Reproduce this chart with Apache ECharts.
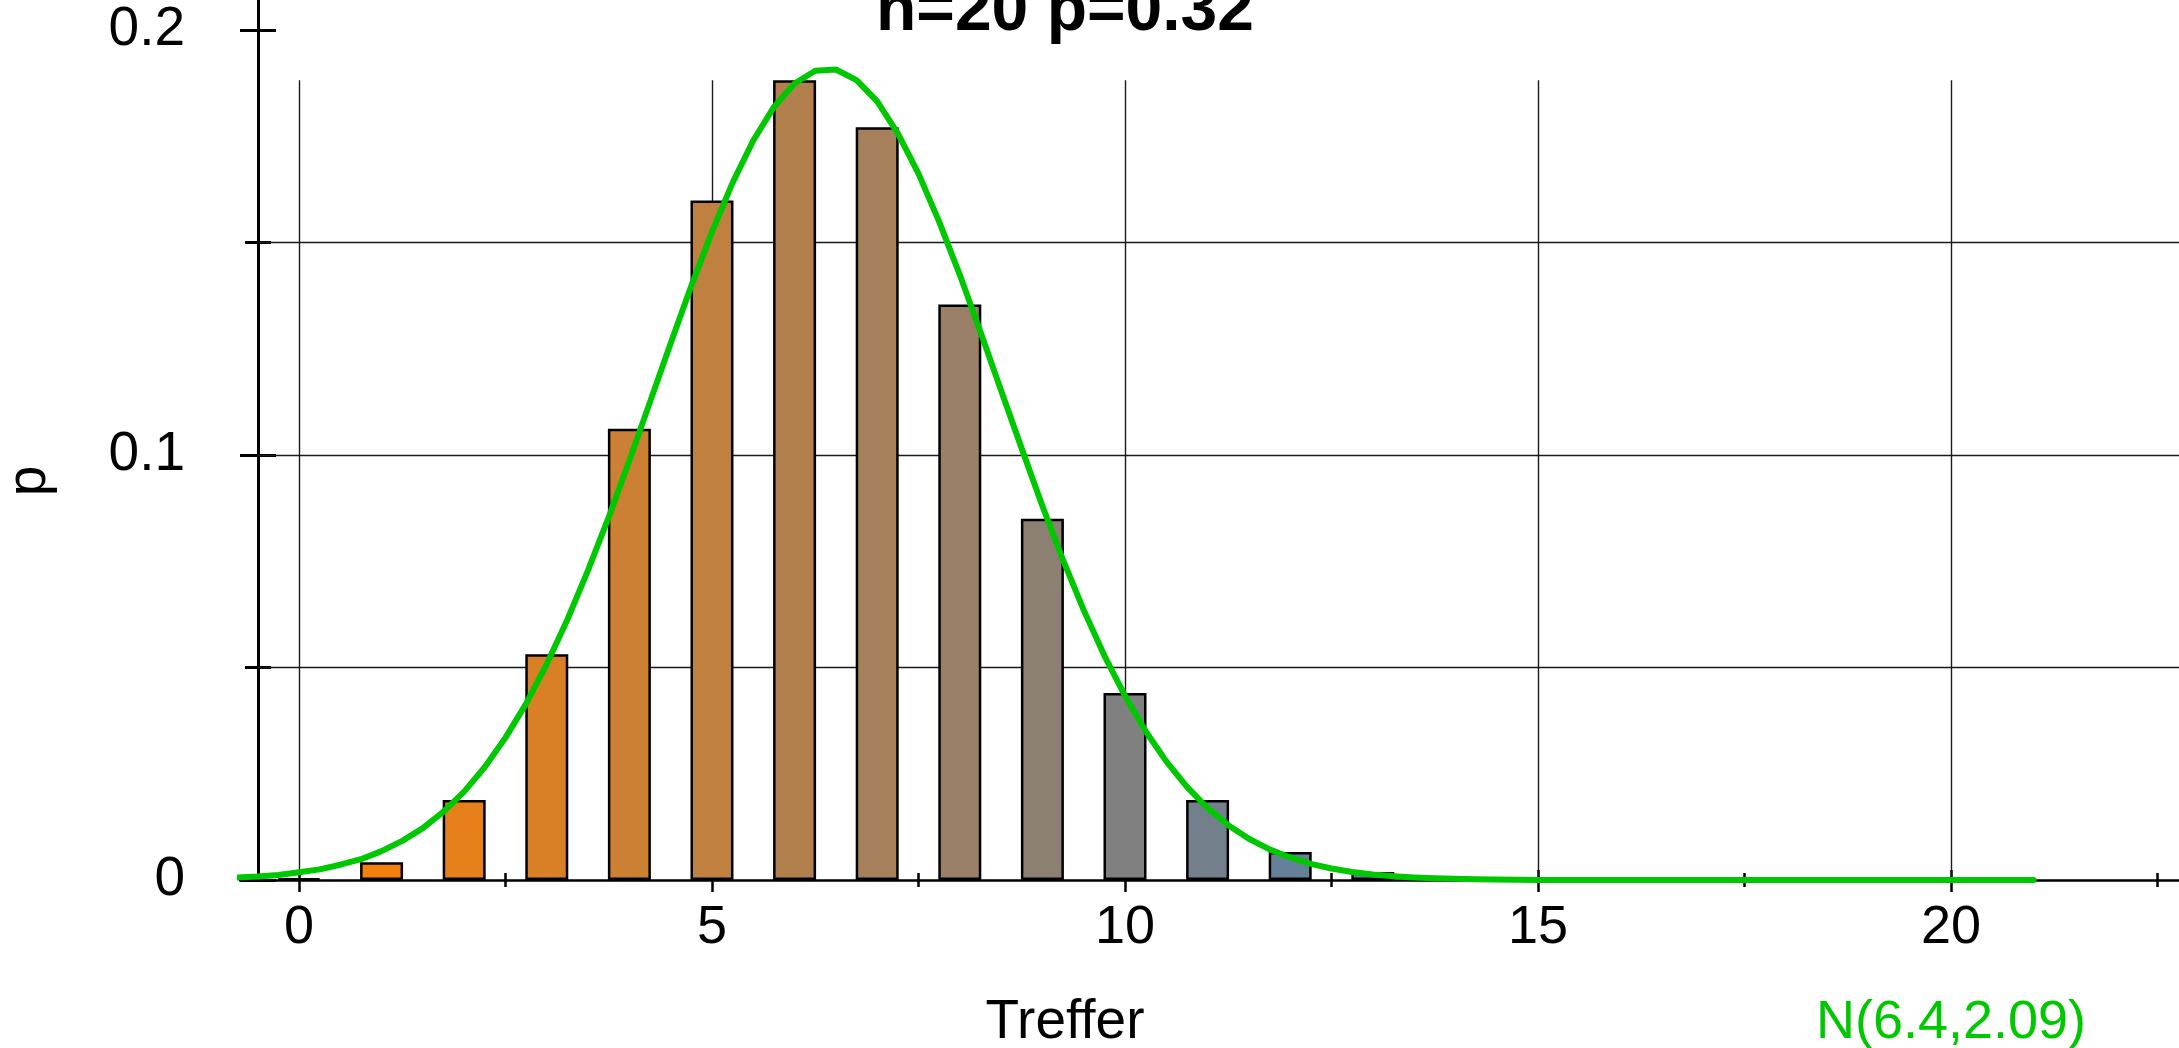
<!DOCTYPE html>
<html>
<head>
<meta charset="utf-8">
<script src="https://cdn.jsdelivr.net/npm/echarts@6/dist/echarts.min.js"></script>
<style>
html,body{margin:0;padding:0;background:#fff;}
#chart{width:2179px;height:1048px;}
</style>
</head>
<body>
<div id="chart"></div>
<script>
// ---- data ----
const titleText = 'n=20 p=0.32';
const xName = 'Treffer';
const yName = 'p';
const curveName = 'N(6.4,2.09)';
const hits = [0, 1, 2, 3, 4, 5, 6, 7, 8, 9, 10, 11, 12, 13, 14, 15];
const probs = [0.0004, 0.0042, 0.0188, 0.0531, 0.1062, 0.1599, 0.1882, 0.1771, 0.1354, 0.0850, 0.0440, 0.0188, 0.0066, 0.0019, 0.0005, 0.0001];
const curveX = [
  -1, -0.75, -0.5, -0.25, 0, 0.25, 0.5, 0.75, 1, 1.25, 1.5, 1.75, 2, 2.25, 2.5, 2.75,
  3, 3.25, 3.5, 3.75, 4, 4.25, 4.5, 4.75, 5, 5.25, 5.5, 5.75, 6, 6.25, 6.5, 6.75,
  7, 7.25, 7.5, 7.75, 8, 8.25, 8.5, 8.75, 9, 9.25, 9.5, 9.75, 10, 10.25, 10.5, 10.75,
  11, 11.25, 11.5, 11.75, 12, 12.25, 12.5, 12.75, 13, 13.25, 13.5, 13.75, 14, 14.25, 14.5,
  15, 15.5, 16, 16.5, 17, 17.5, 18, 18.5, 19, 19.5, 20, 20.5, 21
];
const curveY = [
  0.0004, 0.0006, 0.0008, 0.0012, 0.0018, 0.0025, 0.0036, 0.0049, 0.0068, 0.0092, 0.0122, 0.0161, 0.0208, 0.0266, 0.0335, 0.0415,
  0.0508, 0.0613, 0.0729, 0.0854, 0.0987, 0.1125, 0.1263, 0.1398, 0.1525, 0.1641, 0.1740, 0.1819, 0.1874, 0.1904, 0.1907, 0.1882,
  0.1832, 0.1757, 0.1662, 0.1549, 0.1424, 0.1290, 0.1152, 0.1015, 0.0880, 0.0753, 0.0635, 0.0528, 0.0433, 0.0350, 0.0279, 0.0219,
  0.0169, 0.0129, 0.0097, 0.0072, 0.0053, 0.0038, 0.0027, 0.0019, 0.0013, 0.0009, 0.0006, 0.0004, 0.0003, 0.0002, 0.0001,
  0, 0, 0, 0, 0, 0, 0, 0, 0, 0, 0, 0, 0
];
const xMajorTicks = [0, 5, 10, 15, 20];
const xMinorTicks = [2.5, 7.5, 12.5, 17.5, 22.5];
const yMajorTicks = [0, 0.1, 0.2];
const yMinorTicks = [0.05, 0.15];
const hGridValues = [0.05, 0.1, 0.15];

// ---- styles ----
const barColors = ['#FF8000', '#F2800D', '#E5801A', '#D98026', '#CC8033', '#BF8040', '#B2804D', '#A6805A', '#998066', '#8C8073', '#808080', '#73808C', '#668099', '#5980A6', '#4D80B2', '#4080BF'];
const FONT = "'Liberation Sans', Arial, sans-serif";
const GREEN = '#00C800';
const X_MIN = -0.714, X_MAX = 22.76, X_AXIS_START = -0.5;
const Y_MIN = 0, Y_MAX = 0.20706;

const gridTop = Math.max.apply(null, probs);

function xAxisDef(ticks, len, inside, showLine, showLabel) {
  return {
    type: 'value', min: X_MIN, max: X_MAX, position: 'bottom', gridIndex: 0,
    axisLine: {show: showLine, onZero: false, lineStyle: {color: '#000', width: 2.5}},
    axisTick: {show: true, inside: inside, length: len, customValues: ticks, lineStyle: {color: '#000', width: 2.5}},
    axisLabel: {show: showLabel, customValues: ticks, margin: 21, fontSize: 54, color: '#000', fontFamily: FONT},
    splitLine: {show: false}
  };
}
function yAxisDef(ticks, len, inside, showLine, showLabel) {
  return {
    type: 'value', min: Y_MIN, max: Y_MAX, position: 'left', offset: -18, gridIndex: 0,
    axisLine: {show: showLine, onZero: false, lineStyle: {color: '#000', width: 3}},
    axisTick: {show: true, inside: inside, length: len, customValues: ticks, lineStyle: {color: '#000', width: 3}},
    axisLabel: {show: showLabel, customValues: ticks, margin: 73, fontSize: 55, color: '#000', fontFamily: FONT},
    splitLine: {show: false}
  };
}

const gridLines = [];
hGridValues.forEach(v => gridLines.push([{coord: [X_AXIS_START, v]}, {coord: [X_MAX, v]}]));
xMajorTicks.forEach(v => gridLines.push([{coord: [v, 0]}, {coord: [v, gridTop]}]));

const chart = echarts.init(document.getElementById('chart'), null, {renderer: 'canvas'});
chart.setOption({
  animation: false,
  backgroundColor: '#fff',
  grid: {left: 240, right: 0, top: 0, bottom: 168, containLabel: false},
  xAxis: [
    xAxisDef(xMajorTicks, 12, false, true, true),
    xAxisDef(xMajorTicks, 10, true, false, false),
    xAxisDef(xMinorTicks, 7, false, false, false),
    xAxisDef(xMinorTicks, 7, true, false, false)
  ],
  yAxis: [
    yAxisDef(yMajorTicks, 18, false, true, true),
    yAxisDef(yMajorTicks, 18, true, false, false),
    yAxisDef(yMinorTicks, 13, false, false, false),
    yAxisDef(yMinorTicks, 13, true, false, false)
  ],
  series: [
    {
      type: 'line', name: 'grid', data: [], z: 1, silent: true,
      markLine: {
        silent: true, z: 1, symbol: 'none', animation: false,
        label: {show: false},
        lineStyle: {color: '#1a1a1a', width: 1.4, type: 'solid'},
        emphasis: {disabled: true},
        data: gridLines
      }
    },
    {
      type: 'bar', name: 'p', z: 2, barWidth: 43,
      data: hits.map((k, i) => ({value: [k, probs[i]], itemStyle: {color: barColors[i]}})),
      itemStyle: {borderColor: '#000', borderWidth: 2.5}
    },
    {
      type: 'line', name: curveName, z: 3, smooth: false, showSymbol: false, clip: false,
      data: curveX.map((x, i) => [x, curveY[i]]),
      lineStyle: {color: GREEN, width: 6, join: 'round', cap: 'round'}
    }
  ],
  graphic: [
    {type: 'text', x: 1065, y: 12, z: 10, style: {text: titleText, font: 'bold 66px ' + FONT, fill: '#000', textAlign: 'center', textVerticalAlign: 'middle'}},
    {type: 'text', x: 1065, y: 1023, z: 10, style: {text: xName, font: '55px ' + FONT, fill: '#000', textAlign: 'center', textVerticalAlign: 'middle'}},
    {type: 'text', x: 1951, y: 1023, z: 10, style: {text: curveName, font: '54px ' + FONT, fill: GREEN, textAlign: 'center', textVerticalAlign: 'middle'}},
    {type: 'text', x: 30, y: 481, rotation: Math.PI / 2, z: 10, style: {text: yName, font: '55px ' + FONT, fill: '#000', textAlign: 'center', textVerticalAlign: 'middle'}}
  ]
});
</script>
</body>
</html>
